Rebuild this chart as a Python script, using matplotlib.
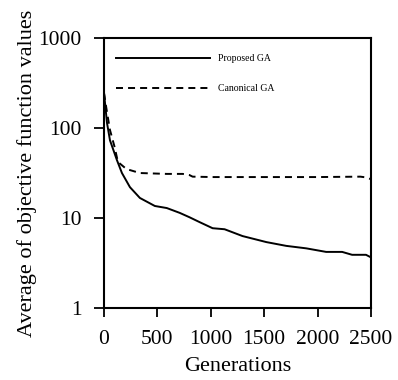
import numpy as np
import matplotlib.pyplot as plt

# values (log scale)
gen_prop = [0, 28, 56, 121, 168, 243, 336, 476, 588, 709, 800, 895, 1017, 1129, 1297, 1520, 1707, 1894, 2080, 2230, 2323, 2453, 2500]
val_prop = [245, 114, 73, 44, 31.6, 22, 16.7, 13.6, 12.9, 11.4, 10.2, 9.0, 7.7, 7.5, 6.3, 5.4, 4.9, 4.6, 4.2, 4.2, 3.9, 3.9, 3.65]

gen_can = [0, 28, 56, 100, 130, 210, 336, 588, 737, 800, 830, 1017, 1500, 2000, 2400, 2450, 2500]
val_can = [245, 150, 95, 61, 42, 35, 31.6, 30.9, 30.9, 30, 28.8, 28.5, 28.5, 28.5, 28.8, 28.3, 27]

plt.rcParams['font.family'] = ['Liberation Serif', 'DejaVu Serif']

fig = plt.figure(figsize=(3.98, 3.8), dpi=100)
ax = fig.add_axes([104/398, 1-308/380, (371-104)/398, (308-38)/380])

ax.plot(gen_prop, val_prop, color='black', lw=1.4, label='Proposed GA')
ax.plot(gen_can, val_can, color='black', lw=1.4, ls=(0, (3.6, 2.6)), label='Canonical GA')

ax.set_yscale('log')
ax.set_ylim(1, 1000)
ax.set_xlim(0, 2500)
ax.set_xticks([0, 500, 1000, 1500, 2000, 2500])
ax.set_yticks([1, 10, 100, 1000])
ax.set_yticklabels(['1', '10', '100', '1000'])
ax.minorticks_off()
ax.tick_params(direction='out', length=7, width=1.3, labelsize=15.5, pad=9)
ax.tick_params(axis='x', length=6.5, pad=9)
for s in ax.spines.values():
    s.set_linewidth(1.5)

ax.set_xlabel('Generations', fontsize=16, labelpad=6)
ax.set_ylabel('Average of objective function values', fontsize=16, labelpad=1)

ax.legend(loc='upper left', frameon=False, fontsize=7, handlelength=9.7,
          labelspacing=2.2, borderaxespad=0.0, bbox_to_anchor=(0.03, 0.955))

fig.savefig('out.png', dpi=100)
